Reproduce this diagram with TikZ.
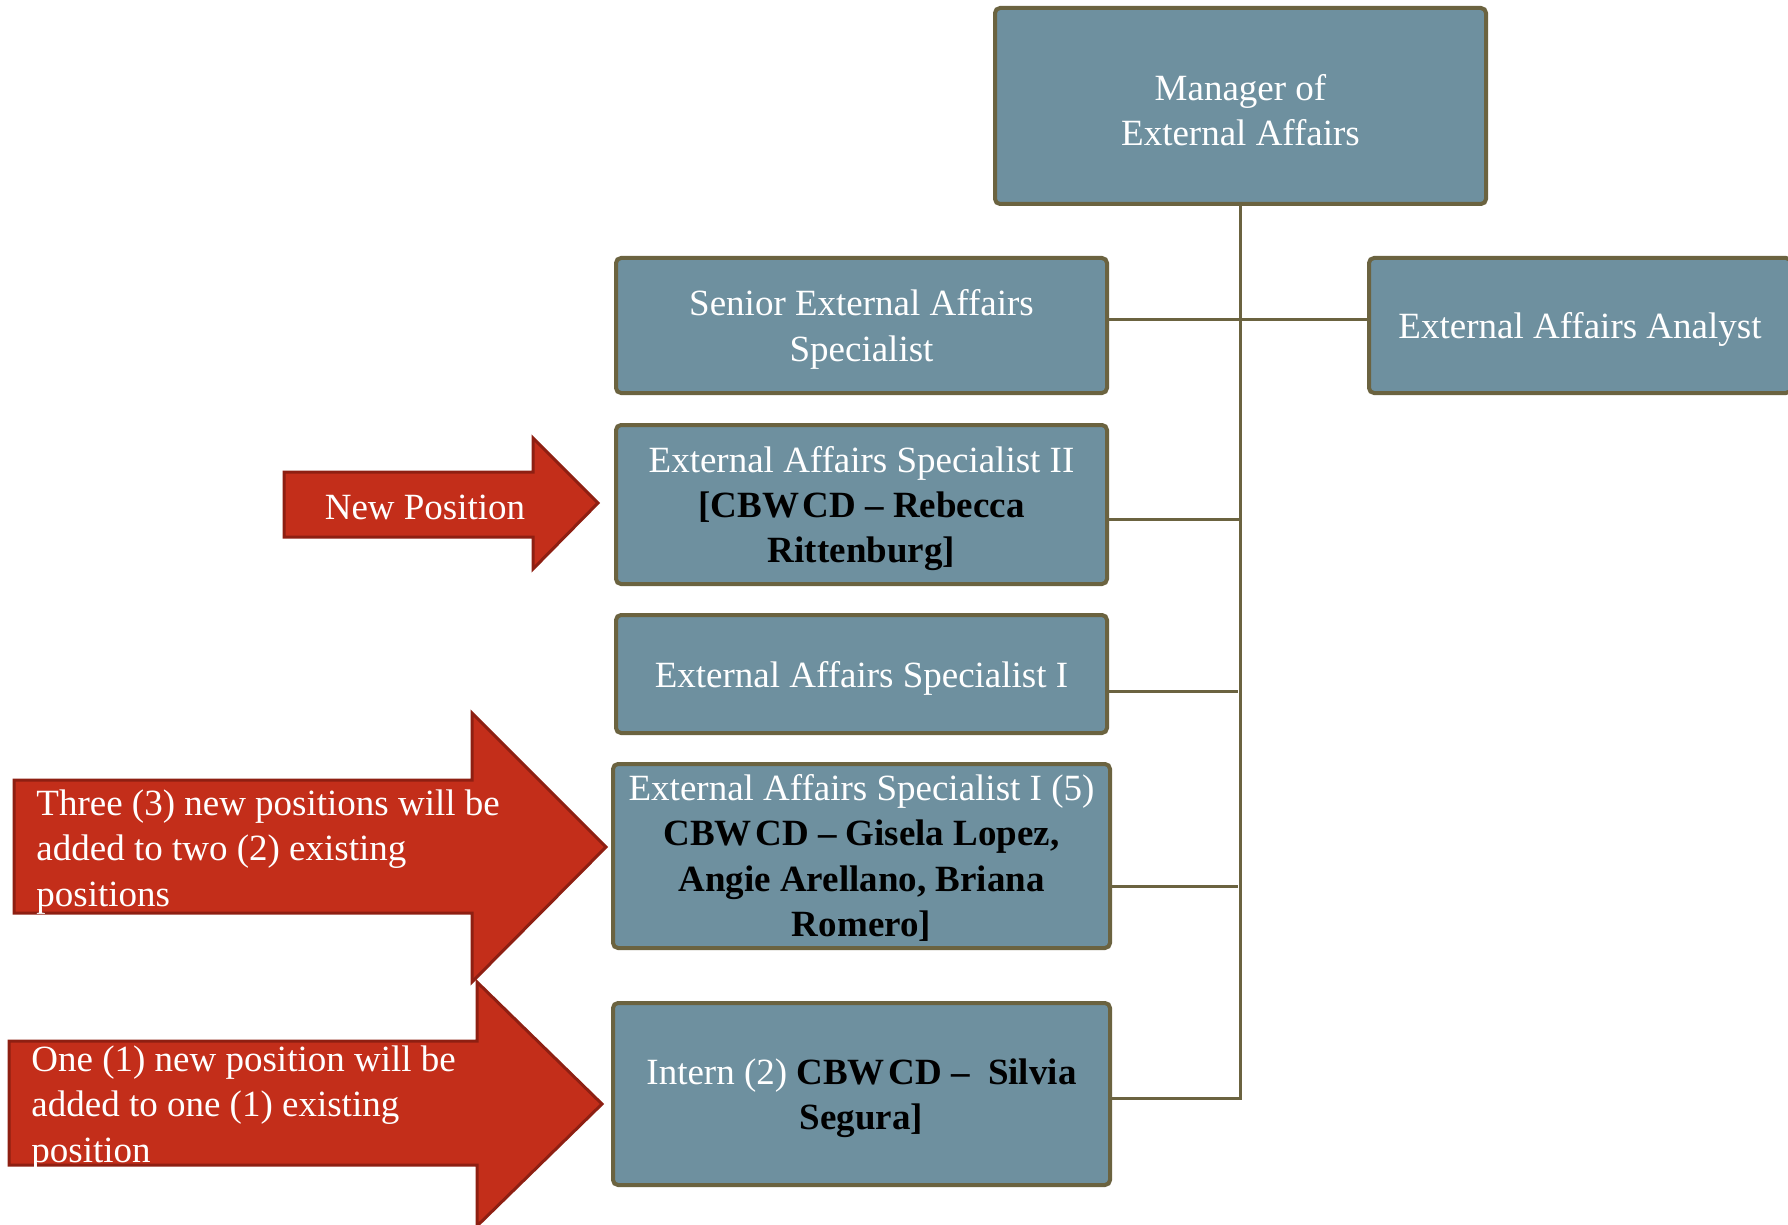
\documentclass[tikz,border=0pt]{standalone}
\usepackage{fontspec}
\setmainfont{Liberation Serif}
\definecolor{boxfill}{HTML}{6E909F}
\definecolor{boxline}{HTML}{6B6340}
\definecolor{arrowfill}{HTML}{C32E1A}
\definecolor{arrowline}{HTML}{8E1F12}
\newcommand\bk[1]{\textcolor{black}{\bfseries #1}}
\newcommand\cbw{CBW\kern1.8pt CD}
\begin{document}
\begin{tikzpicture}[x=0.5pt,y=-0.5pt,
  orgbox/.style={draw=boxline, line width=2pt, fill=boxfill, rounded corners=2.5pt, inner sep=0pt},
  boxtext/.style={inner sep=0pt, align=center, text=white, font=\fontsize{18.5}{22.6}\selectfont},
  link/.style={draw=boxline, line width=1.5pt},
  bigarrow/.style={draw=arrowline, fill=arrowfill, line width=1.5pt, line join=miter},
  arrowtext/.style={text=white, font=\fontsize{18.5}{22.6}\selectfont, inner sep=0pt}]

\useasboundingbox (0,0) rectangle (1788,1225);

% arrows
\draw[bigarrow] (284,472) -- (533,472) -- (533,438) -- (598,503) -- (533,569) -- (533,537) -- (284,537) -- cycle;
\draw[bigarrow] (14,780) -- (472,780) -- (472,713) -- (606,847) -- (472,982) -- (472,913) -- (14,913) -- cycle;
\draw[bigarrow] (9,1041) -- (477,1041) -- (477,982) -- (602,1104) -- (477,1226) -- (477,1165) -- (9,1165) -- cycle;

\node[arrowtext] (npos) at (425,507) {New Position};
\node[arrowtext, anchor=west, align=left] (three) at (36,852) {Three (3) new positions will be\\added to two (2) existing\\positions};
\node[arrowtext, anchor=west, align=left] (one) at (31,1108) {One (1) new position will be\\added to one (1) existing\\position};

% boxes
\node[orgbox, minimum width=245.5pt, minimum height=98pt] (mgr) at (1240.5,106) {};
\node[orgbox, minimum width=245.5pt, minimum height=67.5pt] (senior) at (861.5,325.5) {};
\node[orgbox, minimum width=211pt, minimum height=67.5pt] (analyst) at (1580,325.5) {};
\node[orgbox, minimum width=245.5pt, minimum height=79.5pt] (eas2) at (861.5,504.5) {};
\node[orgbox, minimum width=245.5pt, minimum height=59pt] (eas1) at (861.5,674) {};
\node[orgbox, minimum width=248.5pt, minimum height=92pt] (eas5) at (861.5,856) {};
\node[orgbox, minimum width=248.5pt, minimum height=91pt] (intern) at (861.5,1094) {};

\node[boxtext] (mgrt) at ([yshift=-2pt]mgr.center) {Manager of\\External Affairs};
\node[boxtext] (seniort) at ([yshift=-2pt]senior.center) {Senior External Affairs\\Specialist};
\node[boxtext] (analystt) at ([yshift=-2pt]analyst.center) {External Affairs Analyst};
\node[boxtext] (eas2t) at ([yshift=-2pt]eas2.center) {External Affairs Specialist II\\\bk{[\cbw{} -- Rebecca}\\\bk{Rittenburg]}};
\node[boxtext] (eas1t) at ([yshift=-2pt]eas1.center) {External Affairs Specialist I};
\node[boxtext] (eas5t) at ([yshift=-1pt]eas5.center) {External Affairs Specialist I (5)\\\bk{\cbw{} -- Gisela Lopez,}\\\bk{Angie Arellano, Briana}\\\bk{Romero]}};
\node[boxtext] (internt) at ([yshift=-2pt]intern.center) {Intern (2) \bk{\cbw{} --\ \ Silvia}\\\bk{Segura]}};

% connectors
\coordinate (trunkend) at (1241,1100);
\coordinate (jS) at (1241,319);
\coordinate (j2) at (1241,519);
\coordinate (j3) at (1238,691);
\coordinate (j4) at (1238,886);
\coordinate (j5) at (1241,1098);
\draw[link] (mgr.south) -- (mgr.south |- trunkend);
\draw[link] (senior.east |- jS) -- (analyst.west |- jS);
\draw[link] (eas2.east |- j2) -- (j2);
\draw[link] (eas1.east |- j3) -- (j3);
\draw[link] (eas5.east |- j4) -- (j4);
\draw[link] (intern.east |- j5) -- (j5);
\end{tikzpicture}
\end{document}
